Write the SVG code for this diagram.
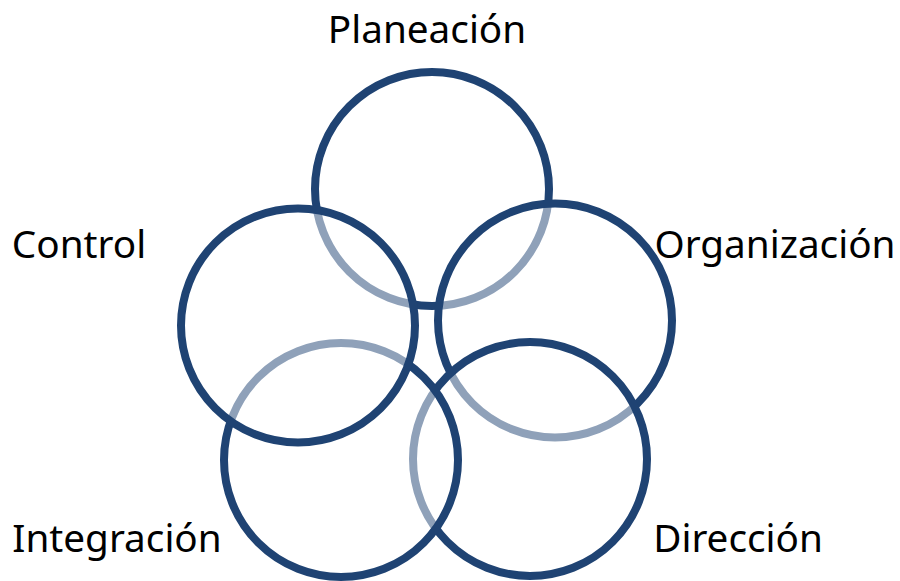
<svg xmlns="http://www.w3.org/2000/svg" width="900" height="581" viewBox="0 0 900 581">
<style>
.ring{fill:#ffffff;fill-opacity:0.5;stroke:#1F4373;stroke-width:8}
.lbl{font-family:"Noto Sans","Open Sans","DejaVu Sans",sans-serif;font-size:38.7px;fill:#000000;text-anchor:middle}
</style>
<rect width="900" height="581" fill="#ffffff"/>
<g id="planeacion">
<circle class="ring" cx="432" cy="189" r="117"/>
<text class="lbl" x="427" y="43">Planeación</text>
</g>
<g id="organizacion">
<circle class="ring" cx="555" cy="320.5" r="117"/>
<text class="lbl" x="775" y="258">Organización</text>
</g>
<g id="direccion">
<circle class="ring" cx="530" cy="459" r="117"/>
<text class="lbl" x="738" y="552">Dirección</text>
</g>
<g id="integracion">
<circle class="ring" cx="341" cy="460" r="117"/>
<text class="lbl" x="117" y="552">Integración</text>
</g>
<g id="control">
<circle class="ring" cx="298" cy="325.5" r="117"/>
<text class="lbl" x="79" y="258">Control</text>
</g>
<g id="connectors"></g>
</svg>
